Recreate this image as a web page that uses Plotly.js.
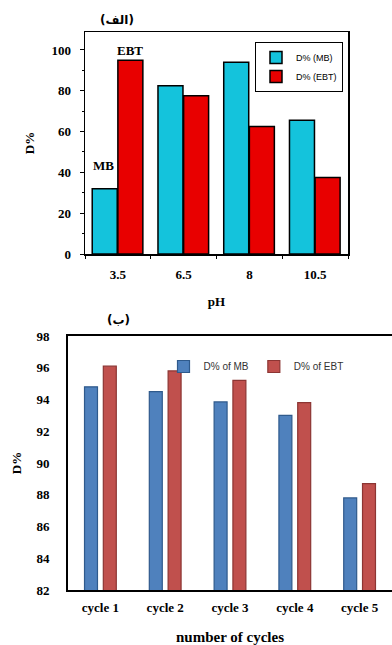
<!DOCTYPE html>
<html><head><meta charset="utf-8">
<script src="https://cdn.plot.ly/plotly-3.0.1.min.js"></script>
<style>html,body{margin:0;padding:0;background:#fff}#c{width:392px;height:645px}</style>
</head><body><div id="c"></div>
<script>
// ---- data: chart (a) ----
const phLabels = ["3.5", "6.5", "8", "10.5"];
const phMB = [32, 82.5, 94, 65.5];
const phEBT = [95, 77.5, 62.5, 37.5];
const phNames = ["D% (MB)", "D% (EBT)"];
// ---- data: chart (b) ----
const cycleLabels = ["cycle 1", "cycle 2", "cycle 3", "cycle 4", "cycle 5"];
const cycMB = [94.8, 94.5, 93.85, 93.0, 87.8];
const cycEBT = [96.1, 95.8, 95.2, 93.8, 88.7];
const cycNames = ["D% of MB", "D% of EBT"];
const yTicksA = [0, 20, 40, 60, 80, 100];
const yTicksB = [82, 84, 86, 88, 90, 92, 94, 96, 98];

const serifBold = {family: "Liberation Serif, Times New Roman, serif", size: 13, color: "#000", weight: "bold"};

const traces = [
  {type: "bar", x: phLabels, y: phMB, name: phNames[0], xaxis: "x", yaxis: "y", legend: "legend",
   width: 0.38, offset: -0.39, marker: {color: "#14c3dc", line: {color: "#000", width: 1.5}}},
  {type: "bar", x: phLabels, y: phEBT, name: phNames[1], xaxis: "x", yaxis: "y", legend: "legend",
   width: 0.38, offset: 0.0, marker: {color: "#e80000", line: {color: "#000", width: 1.5}}},
  {type: "bar", x: cycleLabels, y: cycMB, name: cycNames[0], xaxis: "x2", yaxis: "y2", legend: "legend2",
   width: 0.2, offset: -0.245, marker: {color: "#4f81bd", line: {color: "#2f5a8c", width: 1.2}}},
  {type: "bar", x: cycleLabels, y: cycEBT, name: cycNames[1], xaxis: "x2", yaxis: "y2", legend: "legend2",
   width: 0.2, offset: 0.045, marker: {color: "#c0504d", line: {color: "#8c3533", width: 1.2}}}
];

const layout = {
  width: 392, height: 645,
  margin: {l: 0, r: 0, t: 0, b: 0, autoexpand: false},
  paper_bgcolor: "#fff", plot_bgcolor: "#fff",
  barmode: "overlay",
  showlegend: true,
  xaxis: {domain: [85/392, 348/392], anchor: "y", type: "category",
    showline: true, mirror: true, linecolor: "#000", linewidth: 1.5,
    ticks: "outside", tickson: "boundaries", ticklen: 3, tickcolor: "#000",
    ticklabelstandoff: 8, tickfont: serifBold, showgrid: false, fixedrange: true,
    title: {text: "pH", font: serifBold, standoff: 16}},
  yaxis: {domain: [1 - 254/645, 1 - 32/645], anchor: "x", range: [0, 108.8],
    tickvals: yTicksA, showline: true, mirror: true, linecolor: "#000", linewidth: 1.5,
    ticks: "outside", ticklen: 4, tickcolor: "#000", ticklabelstandoff: 6,
    minor: {dtick: 10, ticks: "outside", ticklen: 2, tickcolor: "#000"},
    tickfont: serifBold, showgrid: false, zeroline: false, fixedrange: true,
    title: {text: "D%", font: serifBold, standoff: 14}},
  xaxis2: {domain: [68/392, 1], anchor: "y2", type: "category",
    showline: true, mirror: true, linecolor: "#000", linewidth: 2,
    ticks: "", ticklabelstandoff: 4, tickfont: serifBold, showgrid: false, fixedrange: true,
    title: {text: "number of cycles", font: {family: serifBold.family, size: 15, color: "#000", weight: "bold"}, standoff: 18}},
  yaxis2: {domain: [1 - 590/645, 1 - 336/645], anchor: "x2", range: [82, 98],
    tickvals: yTicksB, showline: true, mirror: true, linecolor: "#000", linewidth: 2,
    ticks: "", ticklabelstandoff: 14, tickfont: serifBold, showgrid: false, zeroline: false, fixedrange: true,
    title: {text: "D%", font: serifBold, standoff: 12}},
  legend: {x: 255/392, y: 1 - 42/645, xanchor: "left", yanchor: "top",
    bgcolor: "#fff", bordercolor: "#000", borderwidth: 1,
    font: {family: "Liberation Sans, Arial, sans-serif", size: 9, color: "#000"},
    tracegroupgap: 0, itemwidth: 30},
  legend2: {x: 256/392, y: 1 - 352/645, xanchor: "center", yanchor: "top", orientation: "h",
    bgcolor: "rgba(0,0,0,0)", borderwidth: 0,
    font: {family: "Liberation Sans Narrow, Arial Narrow, Liberation Sans, sans-serif", size: 10, color: "#333"},
    itemwidth: 30},
  annotations: [
    {xref: "paper", yref: "paper", x: 117/392, y: 1 - 20/645, xanchor: "center", yanchor: "middle", text: "(الف)", showarrow: false,
     font: {family: "DejaVu Sans, sans-serif", size: 12, color: "#000", weight: "bold"}},
    {xref: "paper", yref: "paper", x: 118/392, y: 1 - 320/645, xanchor: "center", yanchor: "middle", text: "(ب)", showarrow: false,
     font: {family: "DejaVu Sans, sans-serif", size: 12, color: "#000", weight: "bold"}},
    {xref: "paper", yref: "paper", x: 130/392, y: 1 - 51/645, xanchor: "center", yanchor: "middle", text: "EBT", showarrow: false, font: serifBold},
    {xref: "paper", yref: "paper", x: 103/392, y: 1 - 166/645, xanchor: "center", yanchor: "middle", text: "MB", showarrow: false, font: serifBold}
  ]
};

Plotly.newPlot("c", traces, layout, {displayModeBar: false, staticPlot: true});
</script>
</body></html>
